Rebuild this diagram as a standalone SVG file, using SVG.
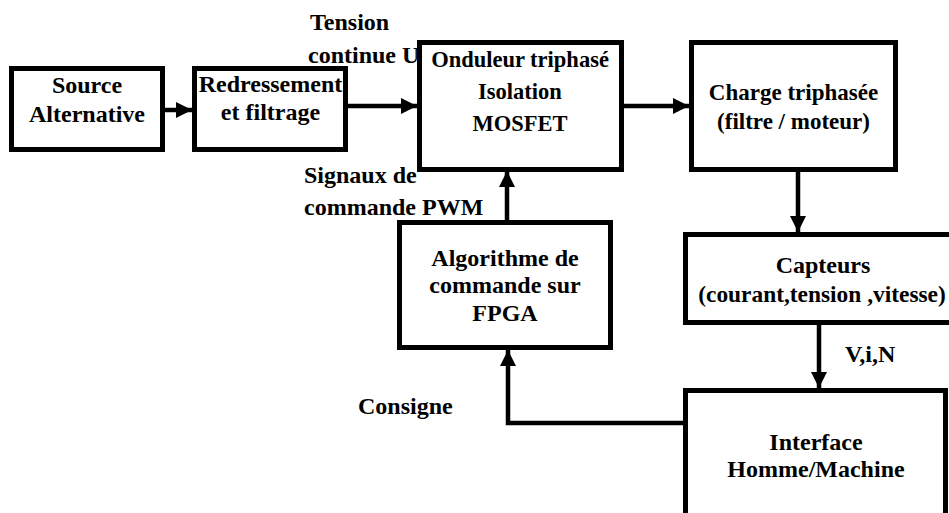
<svg xmlns="http://www.w3.org/2000/svg" width="949" height="513" viewBox="0 0 949 513">
<style>
.box{fill:#fff;stroke:#000;stroke-width:5}
.t{font-family:'Liberation Serif',Tinos,'Times New Roman',Times,serif;font-weight:700;font-size:24px;fill:#000}
.c{text-anchor:middle}
.s1{font-size:22.5px}
.s2{font-size:23px}
.ln{fill:none;stroke:#000;stroke-width:4.5}
</style>
<defs>
<marker id="ah" viewBox="0 0 10 10" refX="10" refY="5" markerWidth="3.6" markerHeight="3.6" markerUnits="strokeWidth" orient="auto">
<path d="M0,0 L10,5 L0,10 Z" fill="#000"/>
</marker>
</defs>
<rect width="949" height="513" fill="#fff"/>
<g id="connectors">
<line class="ln" x1="165" y1="110" x2="192" y2="110" marker-end="url(#ah)"/>
<line class="ln" x1="348" y1="106" x2="417" y2="106" marker-end="url(#ah)"/>
<line class="ln" x1="624" y1="106" x2="689" y2="106" marker-end="url(#ah)"/>
<line class="ln" x1="798" y1="171" x2="798" y2="232" marker-end="url(#ah)"/>
<line class="ln" x1="819" y1="325" x2="819" y2="388" marker-end="url(#ah)"/>
<line class="ln" x1="507" y1="220" x2="507" y2="171" marker-end="url(#ah)"/>
<polyline class="ln" points="683,423 508,423 508,350" marker-end="url(#ah)"/>
</g>
<g id="source">
<rect class="box" x="11.5" y="68.5" width="151" height="81"/>
<text class="t c" x="87" y="93">Source</text>
<text class="t c" x="87" y="122">Alternative</text>
</g>
<g id="redressement">
<rect class="box" x="194.5" y="68.5" width="151" height="81"/>
<text class="t c" x="270.5" y="92">Redressement</text>
<text class="t c" x="270.5" y="120">et filtrage</text>
</g>
<g id="onduleur">
<rect class="box" x="419.5" y="42.5" width="202" height="127"/>
<text class="t c s1" x="520" y="67">Onduleur triphasé</text>
<text class="t c s1" x="520" y="99">Isolation</text>
<text class="t c s1" x="520" y="131">MOSFET</text>
</g>
<g id="charge">
<rect class="box" x="691.5" y="42.5" width="204" height="127"/>
<text class="t c s2" x="793.5" y="100">Charge triphasée</text>
<text class="t c s2" x="793.5" y="129">(filtre / moteur)</text>
</g>
<g id="capteurs">
<rect class="box" x="685.5" y="234.5" width="278" height="88"/>
<text class="t c" x="823" y="273">Capteurs</text>
<text class="t c" x="822" y="302" style="font-size:23.4px">(courant,tension ,vitesse)</text>
</g>
<g id="algorithme">
<rect class="box" x="399.5" y="222.5" width="211" height="125"/>
<text class="t c" x="505" y="266">Algorithme de</text>
<text class="t c" x="505" y="293">commande sur</text>
<text class="t c" x="505" y="321">FPGA</text>
</g>
<g id="ihm">
<rect class="box" x="685.5" y="390.5" width="260" height="140"/>
<text class="t c" x="816" y="450">Interface</text>
<text class="t c" x="816" y="477">Homme/Machine</text>
</g>
<g id="labels">
<text class="t" x="310" y="30">Tension</text>
<text class="t" x="308" y="63">continue U</text>
<text class="t" x="304" y="183">Signaux de</text>
<text class="t" x="304" y="215">commande PWM</text>
<text class="t" x="845" y="362">V,i,N</text>
<text class="t" x="358" y="414">Consigne</text>
</g>
</svg>
